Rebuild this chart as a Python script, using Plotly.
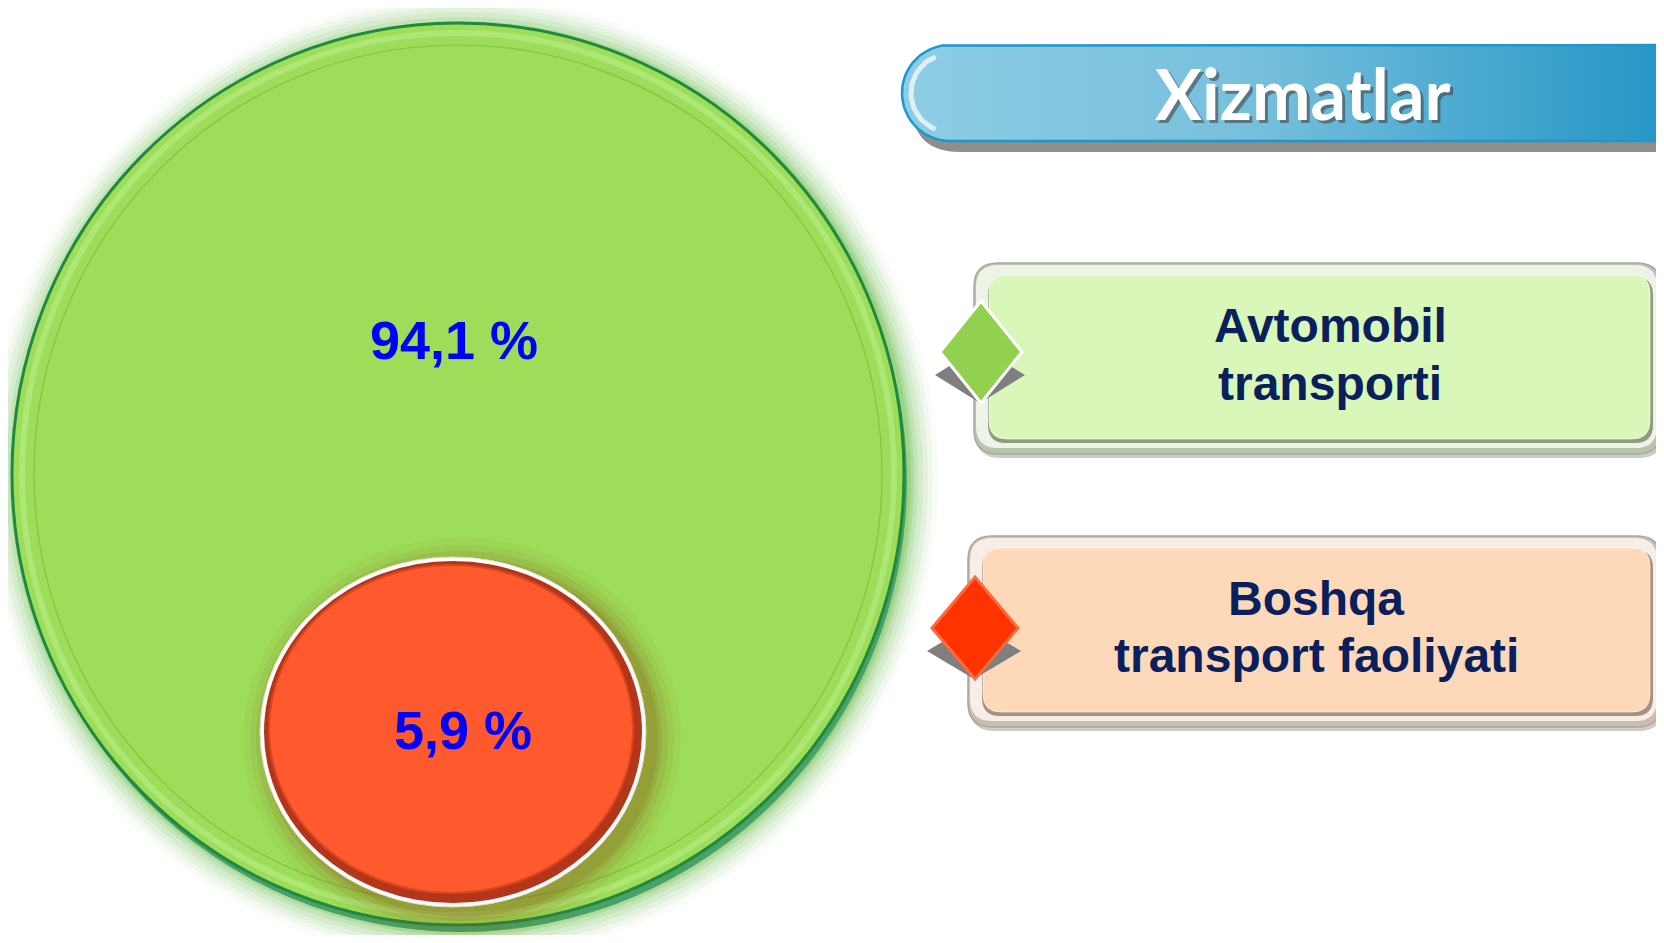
import numpy as np
import plotly.graph_objects as go

# ----------------------------------------------------------------------------------------------------------------------
# Data
# ----------------------------------------------------------------------------------------------------------------------
panel_title = "Xizmatlar"
categories = ["Avtomobil transporti", "Boshqa transport faoliyati"]
label_lines = [["Avtomobil", "transporti"], ["Boshqa", "transport faoliyati"]]
shares = [94.1, 5.9]

# Colours per category
circle_fill = ["#9DDD5A", "#FF5A2D"]
diamond_fill = ["#92D050", "#FF3300"]
diamond_line = ["#FFFFFF", "#FF6A3D"]
box_face = ["#DAF7BA", "#FDD8B9"]
box_rim_light = ["#EEF3E7", "#F6EEE7"]
box_rim_dark = ["#B9C4AC", "#CDBBAD"]
box_face_shadow = ["#8E9C7C", "#A8917F"]

# ----------------------------------------------------------------------------------------------------------------------
# Layout geometry (pixel space of the 1664x943 canvas)
# ----------------------------------------------------------------------------------------------------------------------
W, H = 1664, 943
OFF = 8  # page body margin, compensated in the axis ranges
circles = [(458, 474, 446, 451), (453, 732, 193, 175)]   # cx, cy, rx, ry
pct_pos = [(454, 340), (463, 730)]
boxes = [(974, 263, 1661, 454), (968, 536, 1661, 727)]
box_text_x = [1330, 1316]
box_text_y = [(325, 383), (598, 655)]
diamonds = [(981, 352, 41, 51), (975, 628, 43, 51)]


def ellipse(cx, cy, rx, ry, **kw):
    return dict(type="circle", xref="x", yref="y", x0=cx - rx, x1=cx + rx, y0=cy - ry, y1=cy + ry, **kw)


def rrect(x0, y0, x1, y1, r):
    return (f"M{x0 + r},{y0} L{x1 - r},{y0} Q{x1},{y0} {x1},{y0 + r} L{x1},{y1 - r} Q{x1},{y1} {x1 - r},{y1} "
            f"L{x0 + r},{y1} Q{x0},{y1} {x0},{y1 - r} L{x0},{y0 + r} Q{x0},{y0} {x0 + r},{y0} Z")


def diamond(cx, cy, hw, hh):
    return f"M{cx - hw},{cy} L{cx},{cy - hh} L{cx + hw},{cy} L{cx},{cy + hh} Z"


def fmt_pct(v):
    return f"{v:.1f}".replace(".", ",") + " %"


fig = go.Figure()
shapes = []
annotations = []

# ----------------------------------------------------------------------------------------------------------------------
# Big circle (Avtomobil transporti) with soft glow
# ----------------------------------------------------------------------------------------------------------------------
cx, cy, rx, ry = circles[0]
for k, a in zip([30, 25, 20, 15, 10, 6, 3], [0.04, 0.06, 0.09, 0.12, 0.16, 0.22, 0.28]):
    shapes.append(ellipse(cx + 4, cy + 4, rx + k, ry + k, fillcolor=f"rgba(105,190,75,{a})", line_width=0,
                          layer="below"))
shapes.append(ellipse(cx + 3, cy + 7, rx, ry, fillcolor="rgba(40,140,90,0.7)", line_width=0, layer="below"))
shapes.append(ellipse(cx, cy, rx, ry, fillcolor=circle_fill[0], line=dict(color="#1F8A3E", width=3), layer="below"))
shapes.append(ellipse(cx, cy, rx - 10, ry - 10, fillcolor="rgba(0,0,0,0)",
                      line=dict(color="rgba(175,232,120,0.9)", width=6), layer="below"))
shapes.append(ellipse(cx, cy, rx - 22, ry - 22, fillcolor="rgba(0,0,0,0)",
                      line=dict(color="rgba(110,180,60,0.6)", width=1.2), layer="below"))

# ----------------------------------------------------------------------------------------------------------------------
# Small ellipse (Boshqa transport faoliyati) with brownish shadow
# ----------------------------------------------------------------------------------------------------------------------
cx, cy, rx, ry = circles[1]
for k, a in zip([26, 19, 13, 7, 3], [0.05, 0.08, 0.12, 0.16, 0.2]):
    shapes.append(ellipse(cx + 9, cy + 7, rx + k, ry + k, fillcolor=f"rgba(140,95,20,{a})", line_width=0,
                          layer="below"))
shapes.append(ellipse(cx, cy, rx, ry, fillcolor="#FFFFFF", line=dict(color="#E8D8C8", width=1), layer="below"))
shapes.append(ellipse(cx, cy, rx - 4, ry - 4, fillcolor="#B3361A", line_width=0, layer="below"))
shapes.append(ellipse(cx - 2, cy - 3, rx - 11, ry - 11, fillcolor=circle_fill[1],
                      line=dict(color="#D9471F", width=2), layer="below"))

for (px, py), v in zip(pct_pos, shares):
    annotations.append(dict(x=px, y=py, xref="x", yref="y", text=f"<b>{fmt_pct(v)}</b>", showarrow=False,
                            font=dict(family="Liberation Sans, Arial", size=54, color="#0000FF")))

# ----------------------------------------------------------------------------------------------------------------------
# Title pill (gradient fill via scatter)
# ----------------------------------------------------------------------------------------------------------------------
px0, py0, py1 = 902, 45, 141
pr = (py1 - py0) / 2
pm = (py0 + py1) / 2
t = np.linspace(np.pi / 2, 3 * np.pi / 2, 40)
pill_x = [W + 30] + list(px0 + pr + pr * np.cos(t)) + [W + 30, W + 30]
pill_y = [py0] + list(pm - pr * np.sin(t)) + [py1, py0]
shapes.append(dict(type="path", xref="x", yref="y", layer="below",
                   path=rrect(px0 + 10, py0 + 11, W + 40, py1 + 11, pr), fillcolor="#8E8E8E", line_width=0))
fig.add_trace(go.Scatter(x=pill_x, y=pill_y, mode="lines", fill="toself", hoverinfo="skip", showlegend=False,
                         line=dict(color="#1B98D0", width=2.5),
                         fillgradient=dict(type="horizontal",
                                           colorscale=[[0, "#8ECDE4"], [0.45, "#76BFDC"], [1, "#1F93C4"]])))
t2 = np.linspace(np.pi * 0.62, np.pi * 1.38, 30)
fig.add_trace(go.Scatter(x=px0 + pr + (pr - 9) * np.cos(t2), y=pm - (pr - 9) * np.sin(t2), mode="lines",
                         hoverinfo="skip", showlegend=False, line=dict(color="rgba(235,245,250,0.85)", width=5)))
annotations.append(dict(x=1306, y=96, xref="x", yref="y", text=f"<b>{panel_title}</b>", showarrow=False,
                        font=dict(family="Lato", size=70, color="rgba(60,60,60,0.55)")))
annotations.append(dict(x=1303, y=93, xref="x", yref="y", text=f"<b>{panel_title}</b>", showarrow=False,
                        font=dict(family="Lato", size=70, color="#FFFFFF")))

# ----------------------------------------------------------------------------------------------------------------------
# Legend boxes with diamonds
# ----------------------------------------------------------------------------------------------------------------------
for i, cat in enumerate(categories):
    x0, y0, x1, y1 = boxes[i]
    shapes.append(dict(type="path", xref="x", yref="y", layer="below", path=rrect(x0 + 2, y0 + 4, x1 + 2, y1 + 4, 24),
                       fillcolor="rgba(110,110,110,0.35)", line_width=0))
    shapes.append(dict(type="path", xref="x", yref="y", layer="below", path=rrect(x0, y0, x1, y1, 24),
                       fillcolor=box_rim_dark[i], line=dict(color="#A5A99E", width=1.5)))
    shapes.append(dict(type="path", xref="x", yref="y", layer="below", path=rrect(x0 + 2, y0 + 2, x1 - 4, y1 - 6, 22),
                       fillcolor=box_rim_light[i], line_width=0))
    shapes.append(dict(type="path", xref="x", yref="y", layer="below",
                       path=rrect(x0 + 14, y0 + 14, x1 - 8, y1 - 11, 18),
                       fillcolor=box_face_shadow[i], line_width=0))
    shapes.append(dict(type="path", xref="x", yref="y", layer="below",
                       path=rrect(x0 + 15, y0 + 12, x1 - 11, y1 - 15, 18),
                       fillcolor=box_face[i], line=dict(color="rgba(255,255,255,0.6)", width=1)))

    dx, dy, hw, hh = diamonds[i]
    shapes.append(dict(type="path", xref="x", yref="y", path=diamond(dx - 1, dy + 23, hw + 4, 28),
                       fillcolor="#7F7F7F", line_width=0))
    shapes.append(dict(type="path", xref="x", yref="y", path=diamond(dx, dy, hw, hh),
                       fillcolor=diamond_fill[i], line=dict(color=diamond_line[i], width=3)))

    for line_txt, ty in zip(label_lines[i], box_text_y[i]):
        annotations.append(dict(x=box_text_x[i], y=ty, xref="x", yref="y", text=f"<b>{line_txt}</b>",
                                showarrow=False, font=dict(family="Liberation Sans, Arial", size=48,
                                                           color="#0B1F5C")))

# ----------------------------------------------------------------------------------------------------------------------
# Layout (figure sized so that the page, with its body margin, does not overflow the window)
# ----------------------------------------------------------------------------------------------------------------------
fig_w, fig_h = W - OFF, H - 2 * OFF
fig.update_layout(width=fig_w, height=fig_h, margin=dict(l=0, r=0, t=0, b=0), paper_bgcolor="white",
                  plot_bgcolor="white", shapes=shapes, annotations=annotations, showlegend=False)
fig.update_xaxes(range=[OFF, OFF + fig_w], visible=False, fixedrange=True)
fig.update_yaxes(range=[OFF + fig_h, OFF], visible=False, fixedrange=True)

fig.write_html("out.html")
